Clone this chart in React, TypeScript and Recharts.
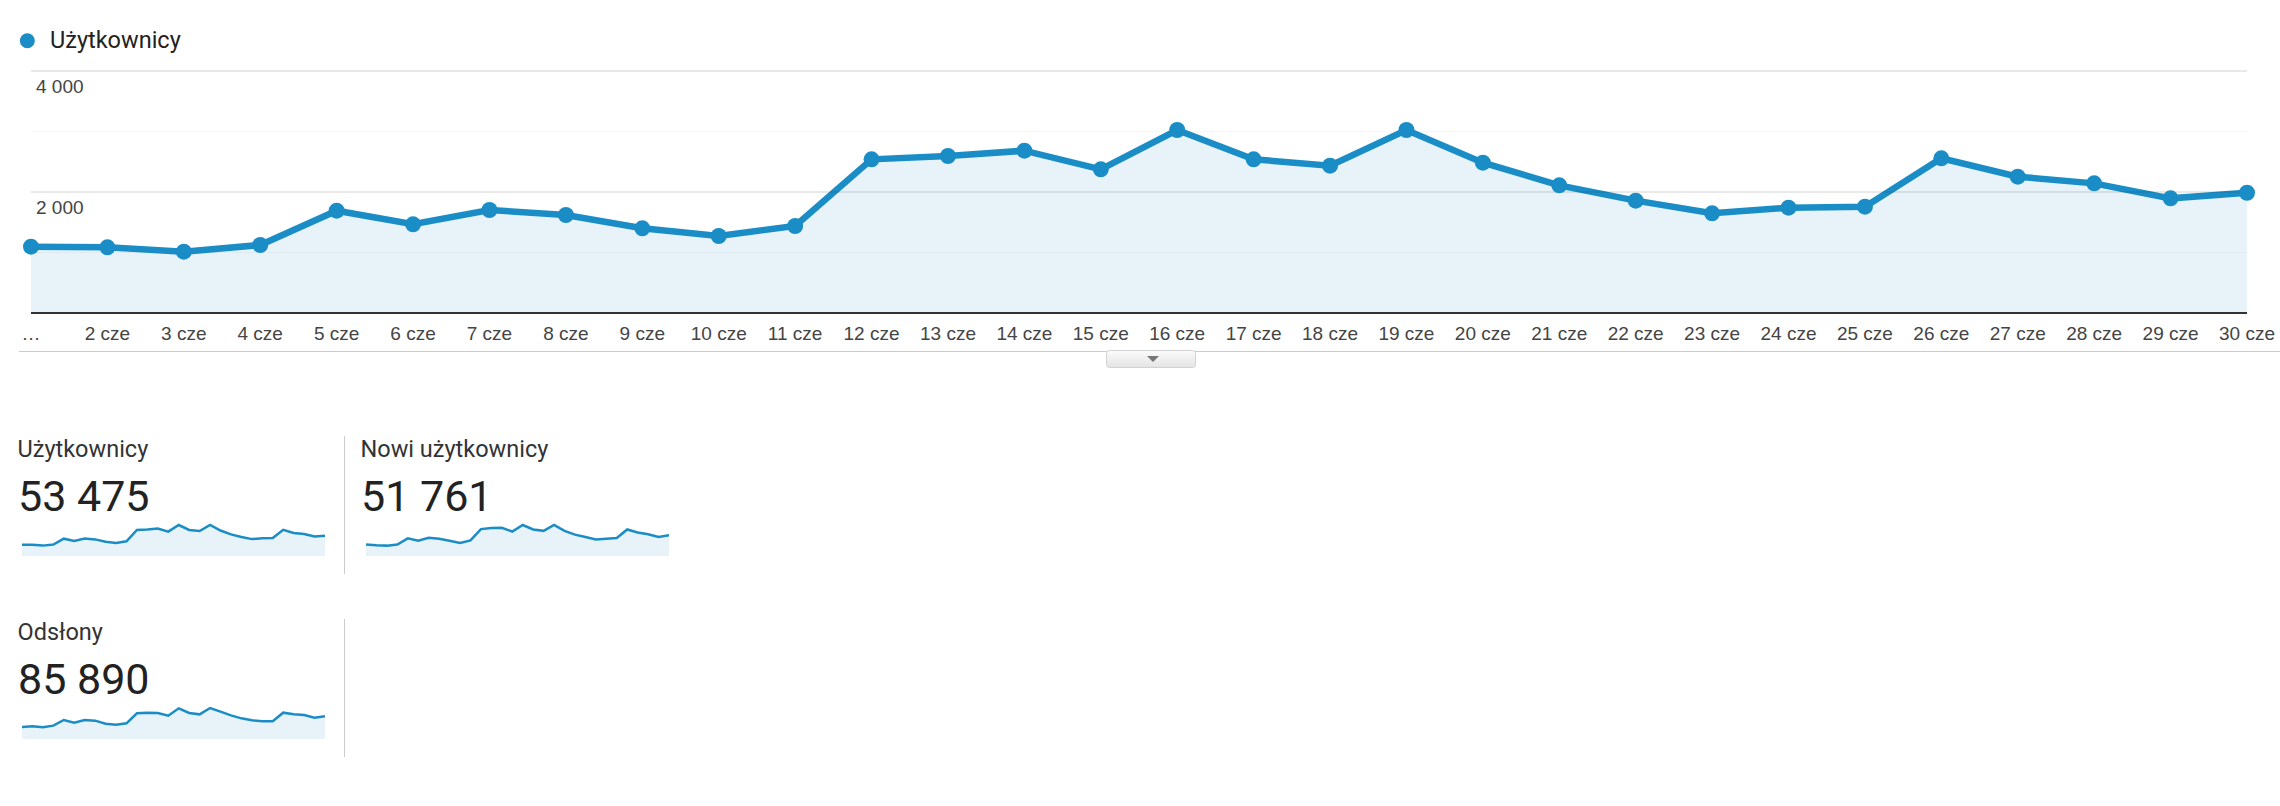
import { AreaChart, Area, XAxis, YAxis, CartesianGrid, ReferenceLine } from 'recharts';

const days = [
  '…', '2 cze', '3 cze', '4 cze', '5 cze', '6 cze', '7 cze', '8 cze', '9 cze', '10 cze',
  '11 cze', '12 cze', '13 cze', '14 cze', '15 cze', '16 cze', '17 cze', '18 cze', '19 cze', '20 cze',
  '21 cze', '22 cze', '23 cze', '24 cze', '25 cze', '26 cze', '27 cze', '28 cze', '29 cze', '30 cze',
];

const users = [
  1096, 1086, 1013, 1124, 1691, 1466, 1702, 1620, 1400, 1273,
  1438, 2540, 2595, 2683, 2375, 3025, 2540, 2435, 3025, 2485,
  2110, 1857, 1648, 1741, 1757, 2557, 2253, 2143, 1895, 1988,
];

const newUsers = [
  1074, 1010, 977, 1074, 1657, 1430, 1722, 1625, 1430, 1236,
  1463, 2531, 2628, 2660, 2304, 2919, 2498, 2369, 2919, 2369,
  2013, 1786, 1560, 1625, 1689, 2498, 2207, 2045, 1786, 1948,
];

const pageViews = [
  1647, 1738, 1601, 1830, 2608, 2242, 2608, 2516, 2104, 1967,
  2150, 3522, 3614, 3568, 3202, 4208, 3568, 3385, 4254, 3751,
  3248, 2836, 2561, 2425, 2425, 3614, 3385, 3293, 2927, 3110,
];

const yTicks = [0, 1000, 2000, 3000, 4000];
const yLabelTicks = [2000, 4000];

const seriesName = 'Użytkownicy';
const cardTitles = ['Użytkownicy', 'Nowi użytkownicy', 'Odsłony'];
const cardTotals = [53475, 51761, 85890];
const cardSeries = [users, newUsers, pageViews];

const BLUE = '#1a8dc6';
const FONT = 'Roboto, "Noto Sans", sans-serif';
const AXIS_FONT = '"Liberation Sans", Arial, sans-serif';

function fmt(n: number): string {
  return String(n).replace(/\B(?=(\d{3})+(?!\d))/g, ' ');
}

const mainData = days.map((day, i) => ({ day, users: users[i] }));

function YTick(props: { x?: number; y?: number; payload?: { value: number } }) {
  const { x = 0, y = 0, payload } = props;
  if (!payload || !yLabelTicks.includes(Number(payload.value))) return <g />;
  return (
    <text x={x + 5} y={y + 22} fontSize={19} fill="#444" fontFamily={AXIS_FONT} textAnchor="start">
      {fmt(Number(payload.value))}
    </text>
  );
}

function XTick(props: { x?: number; y?: number; payload?: { value: string } }) {
  const { x = 0, y = 0, payload } = props;
  return (
    <text x={x} y={y + 27} fontSize={19} fill="#444" fontFamily={AXIS_FONT} textAnchor="middle">
      {payload?.value}
    </text>
  );
}

function Dot(props: { cx?: number; cy?: number }) {
  const { cx, cy } = props;
  if (cx == null || cy == null) return <g />;
  return <circle cx={cx} cy={cy} r={8} fill={BLUE} fillOpacity={1} stroke="none" />;
}

function Sparkline({ values }: { values: number[] }) {
  const data = days.map((day, i) => ({ day, v: values[i] }));
  return (
    <AreaChart width={303} height={33} data={data} margin={{ top: 2, right: 0, bottom: 0, left: 0 }}>
      <XAxis dataKey="day" hide scale="point" padding={{ left: 0, right: 0 }} />
      <YAxis hide domain={[0, 'dataMax']} />
      <Area
        type="linear"
        dataKey="v"
        stroke={BLUE}
        strokeWidth={2.5}
        fill={BLUE}
        fillOpacity={0.1}
        dot={false}
        activeDot={false}
        isAnimationActive={false}
      />
    </AreaChart>
  );
}

export default function App() {
  return (
    <div style={{ position: 'absolute', left: 0, top: 0, width: 2280, height: 806, background: '#fff', fontFamily: FONT }}>
      <div style={{ position: 'absolute', left: 0, top: 0 }}>
        <AreaChart width={2280} height={360} data={mainData} margin={{ top: 71, right: 33, bottom: 17, left: 30 }}>
          <CartesianGrid vertical={false} stroke="#000" strokeOpacity={0.03} />
          <XAxis
            dataKey="day"
            scale="point"
            padding={{ left: 0, right: 0 }}
            interval={0}
            height={30}
            tickLine={false}
            tickSize={0}
            tickMargin={0}
            axisLine={{ stroke: '#333', strokeWidth: 2 }}
            tick={<XTick />}
          />
          <YAxis
            domain={[0, 4000]}
            ticks={yTicks}
            interval={0}
            width={1}
            axisLine={false}
            tickLine={false}
            tickSize={0}
            tickMargin={0}
            tick={<YTick />}
          />
          {yLabelTicks.map((v) => (
            <ReferenceLine key={v} y={v} stroke="#000" strokeOpacity={0.07} strokeWidth={2} />
          ))}
          <Area
            type="linear"
            dataKey="users"
            stroke={BLUE}
            strokeWidth={6.5}
            fill={BLUE}
            fillOpacity={0.1}
            dot={<Dot />}
            activeDot={false}
            isAnimationActive={false}
          />
        </AreaChart>
      </div>

      {cardSeries.map((vals, i) => {
        const col = i % 2;
        const row = Math.floor(i / 2);
        return (
          <div key={i} style={{ position: 'absolute', left: 22 + col * 343.5, top: 523 + row * 183 }}>
            <Sparkline values={vals} />
          </div>
        );
      })}

      <svg width={2280} height={806} style={{ position: 'absolute', left: 0, top: 0, pointerEvents: 'none' }}>
        <defs>
          <linearGradient id="btn-grad" x1="0" y1="0" x2="0" y2="1">
            <stop offset="0%" stopColor="#fbfbfb" />
            <stop offset="100%" stopColor="#e4e4e4" />
          </linearGradient>
        </defs>
        {/* legend */}
        <circle cx={27.3} cy={40.7} r={7.5} fill={BLUE} />
        <text x={50} y={48.3} fontSize={23.5} fill="#222" fontFamily={FONT}>{seriesName}</text>

        {/* separator under the chart and the collapse button */}
        <line x1={19} x2={2280} y1={351.5} y2={351.5} stroke="#ccc" strokeWidth={1} />
        <rect x={1106.5} y={350.5} width={89} height={17} rx={3} fill="url(#btn-grad)" stroke="#d2d2d2" />
        <polygon points="1147,356 1159,356 1153,362" fill="#777" />

        {/* scorecards */}
        {cardTitles.map((title, i) => {
          const col = i % 2;
          const row = Math.floor(i / 2);
          const x = 17.5 + col * 343;
          return (
            <g key={title}>
              <text x={x} y={457.3 + row * 183} fontSize={23.5} fill="#333" fontFamily={FONT}>{title}</text>
              <text x={x + 0.5} y={511 + row * 183} fontSize={43} fill="#222" fontFamily={FONT}>{fmt(cardTotals[i])}</text>
            </g>
          );
        })}
        {[0, 1].map((row) => (
          <line key={row} x1={344.5} x2={344.5} y1={436 + row * 183} y2={574 + row * 183} stroke="#ccc" strokeWidth={1} />
        ))}
      </svg>
    </div>
  );
}
